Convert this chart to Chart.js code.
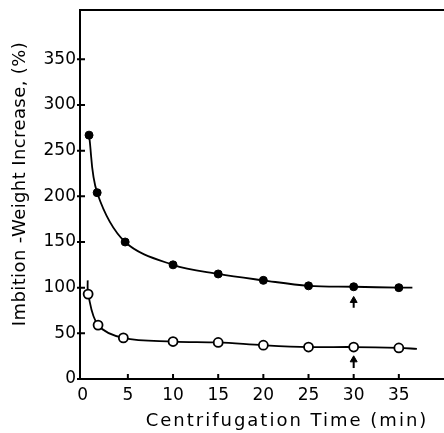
<!DOCTYPE html>
<html>
<head>
<meta charset="utf-8">
<script src="https://cdn.jsdelivr.net/npm/chart.js@4.4.1/dist/chart.umd.min.js"></script>
<style>
  html, body { margin: 0; padding: 0; background: #fff; overflow: hidden; }
</style>
</head>
<body>
<canvas id="chart" width="444" height="433"></canvas>
<script>
// tick labels
const xTicks = [0, 5, 10, 15, 20, 25, 30, 35];
const yTicks = [0, 50, 100, 150, 200, 250, 300, 350];

// filled circles
const timeFilled = [0.7, 1.6, 4.7, 10, 15, 20, 25, 30, 35];
const weightFilled = [267, 204, 150, 125, 115, 108, 102, 101, 100];

// open circles
const timeOpen = [0.6, 1.7, 4.5, 10, 15, 20, 25, 30, 35];
const weightOpen = [93, 59, 45, 41, 40, 37, 35, 35, 34];

// where the drawn curves start / stop beyond the markers
const filledCurveEnd = [36.5, 100];
const openCurveStart = [0.55, 108];
const openCurveEnd = [37, 33];

// the two arrows under the 30 min points
const arrowTime = [30, 30];
const arrowTail = [78, 12];
const arrowHead = [86, 21];

const xTitle = 'Centrifugation Time (min)';
const yTitle = 'Imbition -Weight Increase, (%)';

const toPoints = (xs, ys) => xs.map((x, i) => ({ x: x, y: ys[i] }));

const filledPts = toPoints(timeFilled, weightFilled);
const openPts = toPoints(timeOpen, weightOpen);

const filledCurve = [...filledPts, { x: filledCurveEnd[0], y: filledCurveEnd[1] }];
const openCurve = [
    { x: openCurveStart[0], y: openCurveStart[1] },
    ...openPts,
    { x: openCurveEnd[0], y: openCurveEnd[1] }
];

const arrowSets = arrowTime.map((t, i) => ({
    data: [{ x: t, y: arrowTail[i] }, { x: t, y: arrowHead[i] }],
    borderColor: '#000',
    backgroundColor: '#000',
    borderWidth: 2,
    pointStyle: 'triangle',
    pointRadius: [0, 4],
    pointBorderWidth: 1
}));

// top frame line, inward ticks and the axis titles
const framePlugin = {
    id: 'framePlugin',
    afterDraw(chart) {
        const { ctx, chartArea: a, scales: { x, y } } = chart;
        ctx.save();
        ctx.strokeStyle = '#000';
        ctx.lineWidth = 2;
        ctx.beginPath();
        ctx.moveTo(a.left - 1, a.top);
        ctx.lineTo(a.right, a.top);
        yTicks.forEach(v => {
            const py = y.getPixelForValue(v);
            ctx.moveTo(a.left - 3, py);
            ctx.lineTo(a.left + 5, py);
        });
        xTicks.slice(1).forEach(v => {
            const px = x.getPixelForValue(v);
            ctx.moveTo(px, a.bottom);
            ctx.lineTo(px, a.bottom - 5);
        });
        ctx.stroke();

        ctx.fillStyle = '#000';
        ctx.font = '18px "DejaVu Sans"';
        ctx.textAlign = 'center';
        ctx.textBaseline = 'middle';
        ctx.letterSpacing = '2px';
        ctx.fillText(xTitle, 287, 421);
        ctx.letterSpacing = '0.4px';
        ctx.translate(20, 184);
        ctx.rotate(-Math.PI / 2);
        ctx.fillText(yTitle, 0, 0);
        ctx.restore();
    }
};

const tickFont = { family: 'DejaVu Sans', size: 17 };

new Chart(document.getElementById('chart').getContext('2d'), {
    type: 'line',
    data: {
        datasets: [
            {
                data: filledPts,
                showLine: false,
                pointStyle: 'circle',
                pointRadius: 4,
                backgroundColor: '#000',
                borderColor: '#000',
                pointBorderWidth: 1
            },
            {
                data: openPts,
                showLine: false,
                pointStyle: 'circle',
                pointRadius: 4.5,
                backgroundColor: '#fff',
                borderColor: '#000',
                pointBorderWidth: 1.8
            },
            {
                data: filledCurve,
                borderColor: '#000',
                borderWidth: 1.8,
                pointRadius: 0,
                tension: 0.35
            },
            {
                data: openCurve,
                borderColor: '#000',
                borderWidth: 1.8,
                pointRadius: 0,
                tension: 0.35
            },
            ...arrowSets
        ]
    },
    options: {
        responsive: false,
        animation: false,
        devicePixelRatio: 1,
        layout: { autoPadding: false, padding: { top: 10, left: 0, right: 0, bottom: 0 } },
        plugins: { legend: { display: false }, tooltip: { enabled: false } },
        scales: {
            x: {
                type: 'linear',
                min: -0.3,
                max: 40,
                afterBuildTicks: s => { s.ticks = xTicks.map(v => ({ value: v })); },
                afterFit: s => { s.height = 54; s.paddingLeft = 0; s.paddingRight = 0; },
                grid: { display: false, drawTicks: false },
                border: { color: '#000', width: 2 },
                ticks: { font: tickFont, color: '#000', padding: 6, maxRotation: 0 }
            },
            y: {
                min: 0,
                max: 404,
                afterBuildTicks: s => { s.ticks = yTicks.map(v => ({ value: v })); },
                afterFit: s => { s.width = 80; s.paddingTop = 0; s.paddingBottom = 0; },
                grid: { display: false, drawTicks: false },
                border: { color: '#000', width: 2 },
                ticks: { font: tickFont, color: '#000', padding: 4 }
            }
        }
    },
    plugins: [framePlugin]
});
</script>
</body>
</html>
